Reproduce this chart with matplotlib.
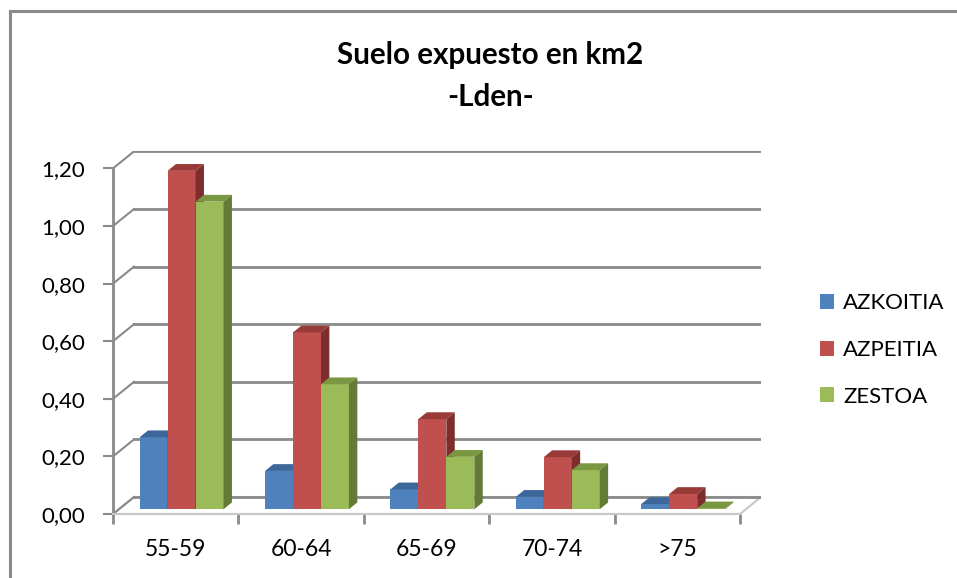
import matplotlib.pyplot as plt
from matplotlib.patches import Polygon, Patch
from matplotlib.lines import Line2D

plt.rcParams['font.family'] = ['Lato', 'DejaVu Sans']

categories = ["55-59", "60-64", "65-69", "70-74", ">75"]
series = ["AZKOITIA", "AZPEITIA", "ZESTOA"]
azkoitia = [0.25, 0.133, 0.069, 0.043, 0.018]
azpeitia = [1.175, 0.614, 0.313, 0.181, 0.053]
zestoa = [1.068, 0.434, 0.182, 0.136, 0.003]
yticks = [0.0, 0.2, 0.4, 0.6, 0.8, 1.0, 1.2]

front_colors = ['#4F81BD', '#C0504D', '#9BBB59']
top_colors = ['#3D669A', '#983A37', '#7A9742']
side_colors = ['#34577F', '#7D2E2C', '#637B34']
grid_col = '#8A8A8A'

W, H = 957, 578
px_x = 125.4          # pixels per category
px_y = 288.0          # pixels per value unit
DX = 21 / px_x        # depth offset, x
DY = 17 / px_y        # depth offset, y
d0, d1 = 0.28, 0.68   # depth range of bars
bw = 0.223            # bar width
ncat = len(categories)
ymax = yticks[-1]

fig = plt.figure(figsize=(W / 100, H / 100), dpi=100)
left, bottom = 113, 514
ax_w = (ncat + DX) * px_x
ax_h = (ymax + DY) * px_y
ax = fig.add_axes([left / W, (H - bottom) / H, ax_w / W, ax_h / H])
ax.set_xlim(0, ncat + DX)
ax.set_ylim(0, ymax + DY)

# floor
ax.add_patch(Polygon([(0, 0), (ncat, 0), (ncat + DX, DY), (DX, DY)],
                     closed=True, facecolor='white', edgecolor='#C8C8C8',
                     lw=1.5, zorder=1))

# back wall and side wall gridlines
for v in yticks:
    ax.plot([DX, ncat + DX], [v + DY, v + DY], color=grid_col, lw=2, zorder=1.5)
    ax.plot([0, DX], [v, v + DY], color=grid_col, lw=1.5, zorder=1.5)

# bars
values = [azkoitia, azpeitia, zestoa]
ddx = (d1 - d0) * DX
ddy = (d1 - d0) * DY
base = d0 * DY
z = 3
for c in range(ncat):
    for s in range(len(series)):
        v = values[s][c]
        xl = c + (1 - 3 * bw) / 2 + s * bw + d0 * DX
        xr = xl + bw
        top = base + v
        ax.bar(xl, v, width=bw, bottom=base, align='edge',
               color=front_colors[s], lw=0, zorder=z)
        ax.add_patch(Polygon([(xl, top), (xr, top), (xr + ddx, top + ddy),
                              (xl + ddx, top + ddy)], closed=True,
                             facecolor=top_colors[s], lw=0, zorder=z))
        ax.add_patch(Polygon([(xr, base), (xr + ddx, base + ddy),
                              (xr + ddx, top + ddy), (xr, top)], closed=True,
                             facecolor=side_colors[s], lw=0, zorder=z))
        z += 0.01

# axes
for side in ['top', 'right']:
    ax.spines[side].set_visible(False)
ax.spines['left'].set_bounds(0, ymax)
ax.spines['left'].set_color(grid_col)
ax.spines['left'].set_linewidth(2)
ax.spines['bottom'].set_bounds(0, ncat)
ax.spines['bottom'].set_color('#C8C8C8')
ax.spines['bottom'].set_linewidth(1.5)
ax.set_facecolor('none')

ax.set_yticks(yticks, labels=[f"{v:.2f}".replace('.', ',') for v in yticks])
ax.tick_params(axis='y', length=7.2, width=1.5, color=grid_col, pad=13,
               labelsize=16)
ax.set_xticks(range(ncat + 1), labels=[''] * (ncat + 1))
ax.set_xticks([c + 0.5 for c in range(ncat)], labels=categories, minor=True)
ax.tick_params(axis='x', which='major', length=7.2, width=2, color=grid_col)
ax.tick_params(axis='x', which='minor', length=0, pad=18, labelsize=16.5)

# title
fig.text(490 / W, 1 - 55 / H, 'Suelo expuesto en km2', ha='center',
         va='center', fontsize=21.3, weight='bold')
fig.text(491 / W, 1 - 97 / H, '-Lden-', ha='center', va='center',
         fontsize=21.3, weight='bold')

# legend
handles = [Patch(facecolor=col, edgecolor='none') for col in front_colors]
fig.legend(handles, series, loc='center left',
           bbox_to_anchor=(820 / W, 1 - 350 / H), frameon=False,
           fontsize=16, handlelength=0.65, handleheight=0.65,
           handletextpad=0.4, labelspacing=1.2, borderpad=0,
           borderaxespad=0)

# chart border
fig.add_artist(Line2D([9.5 / W, 9.5 / W], [0, 1 - 11 / H],
                      color=grid_col, lw=2.2, transform=fig.transFigure))
fig.add_artist(Line2D([9.5 / W, 1], [1 - 11 / H, 1 - 11 / H],
                      color=grid_col, lw=2.2, transform=fig.transFigure))

fig.savefig('out.png', dpi=100)
